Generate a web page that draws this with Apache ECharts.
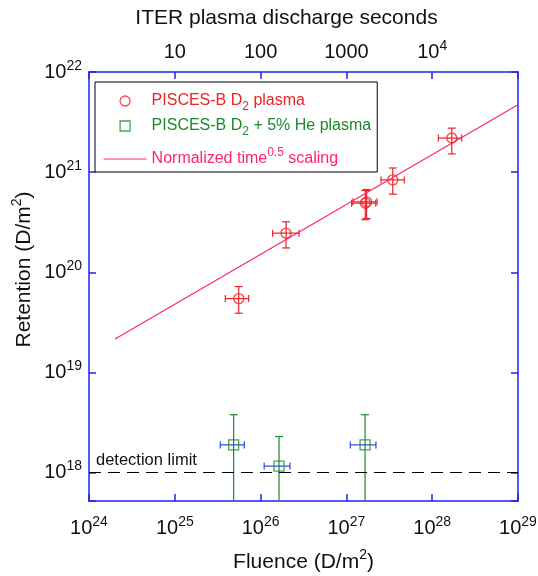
<!DOCTYPE html>
<html>
<head>
<meta charset="utf-8">
<script src="https://cdn.jsdelivr.net/npm/echarts@6/dist/echarts.min.js"></script>
<style>html,body{margin:0;padding:0;background:#fff;}#c{width:538px;height:576px;}</style>
</head>
<body>
<div id="c"></div>
<script>
// ---------------- data ----------------
const FONT = 'Liberation Sans, Arial, Helvetica, sans-serif';
const X_MIN = 1e24, X_MAX = 1e29;
const Y_MIN = 5.2e17, Y_MAX = 1e22;
const T_MIN = 1, T_MAX = 1e5;

const xTickExps = [24, 25, 26, 27, 28, 29];
const yTickExps = [18, 19, 20, 21, 22];
const topTickValues = [10, 100, 1000, 10000];
const topTickLabels = ['{b|10}', '{b|100}', '{b|1000}', '{b|10}{s|4}'];

// PISCES-B D2 plasma
const redX    = [5.56e25, 1.98e26, 1.66e27, 1.72e27, 3.47e27, 1.69e28];
const redY    = [5.46e19, 2.46e20, 4.90e20, 5.05e20, 8.37e20, 2.19e21];
const redXLo  = [3.88e25, 1.38e26, 1.15e27, 1.19e27, 2.53e27, 1.18e28];
const redXHi  = [7.26e25, 2.81e26, 2.20e27, 2.28e27, 4.73e27, 2.21e28];
const redYLo  = [3.90e19, 1.75e20, 3.35e20, 3.45e20, 6.03e20, 1.52e21];
const redYHi  = [7.19e19, 3.19e20, 6.55e20, 6.70e20, 1.10e21, 2.75e21];

// PISCES-B D2 + 5% He plasma
const grnX    = [4.85e25, 1.64e26, 1.65e27];
const grnY    = [1.89e18, 1.16e18, 1.89e18];
const grnXLo  = [3.39e25, 1.10e26, 1.11e27];
const grnXHi  = [6.46e25, 2.20e26, 2.21e27];
const grnYLo  = [0, 0, 0];
const grnYHi  = [3.78e18, 2.29e18, 3.78e18];

// Normalized time^0.5 scaling
const lineX = [2.01e24, 1e29];
const lineY = [2.16e19, 4.70e21];

const DET_LIMIT = 1e18;

const LEG_RED = 'PISCES-B D2 plasma';
const LEG_GRN = 'PISCES-B D2 + 5% He plasma';
const LEG_LINE = 'Normalized time0.5 scaling';

// ---------------- styles ----------------
const RED = '#ec2226';
const GREEN = '#1a8a2c';
const PINK = '#ff2277';
const BLUE = '#2222ee';
const XERR_BLUE = '#2a48d8';

const tickRich = {
  b: {fontSize: 20, lineHeight: 26, fontFamily: FONT, color: '#111'},
  s: {fontSize: 14, lineHeight: 8, verticalAlign: 'top', fontFamily: FONT, color: '#111'}
};
const nameRich = {
  n: {fontSize: 21, lineHeight: 28, fontFamily: FONT, color: '#111'},
  s: {fontSize: 14, lineHeight: 10, verticalAlign: 'top', fontFamily: FONT, color: '#111'}
};

function decadeLabel(exps) {
  return function (v) {
    const e = Math.log10(v);
    const k = exps.find(function (x) { return Math.abs(x - e) < 1e-6; });
    return k === undefined ? '' : '{b|10}{s|' + k + '}';
  };
}
function topLabel(v) {
  const i = topTickValues.findIndex(function (t) { return Math.abs(Math.log10(t) - Math.log10(v)) < 1e-6; });
  return i < 0 ? '' : topTickLabels[i];
}

const axisLine = {show: true, onZero: false, lineStyle: {color: BLUE, width: 1.5}};
const axisTick = {show: true, inside: true, length: 7, lineStyle: {color: BLUE, width: 1.5}};

function errorSeries(xs, ys, xLo, xHi, yLo, yHi, xColor, yColor, capW, capH) {
  return {
    type: 'custom', silent: true, clip: true, z: 2,
    xAxisIndex: 0, yAxisIndex: 0,
    data: xs.map(function (x, i) { return [x, ys[i], xLo[i], xHi[i], yLo[i], yHi[i]]; }),
    encode: {x: 0, y: 1},
    renderItem: function (params, api) {
      const cs = params.coordSys;
      const x = api.value(0), y = api.value(1);
      const c = api.coord([x, y]);
      const xl = api.coord([api.value(2), y])[0];
      const xh = api.coord([api.value(3), y])[0];
      const lo = api.value(4);
      const hasLo = lo > Y_MIN;
      const yl = hasLo ? api.coord([x, lo])[1] : cs.y + cs.height + 10;
      const yh = api.coord([x, api.value(5)])[1];
      const ys = {stroke: yColor, lineWidth: 1.2};
      const xs2 = {stroke: xColor, lineWidth: 1.2};
      const ch = [
        {type: 'line', shape: {x1: c[0], y1: yl, x2: c[0], y2: yh}, style: ys},
        {type: 'line', shape: {x1: c[0] - capW / 2, y1: yh, x2: c[0] + capW / 2, y2: yh}, style: ys},
        {type: 'line', shape: {x1: xl, y1: c[1], x2: xh, y2: c[1]}, style: xs2},
        {type: 'line', shape: {x1: xl, y1: c[1] - capH / 2, x2: xl, y2: c[1] + capH / 2}, style: xs2},
        {type: 'line', shape: {x1: xh, y1: c[1] - capH / 2, x2: xh, y2: c[1] + capH / 2}, style: xs2}
      ];
      if (hasLo) ch.push({type: 'line', shape: {x1: c[0] - capW / 2, y1: yl, x2: c[0] + capW / 2, y2: yl}, style: ys});
      return {type: 'group', children: ch};
    }
  };
}

const legendRich = {
  r: {color: RED, fontSize: 16, lineHeight: 24, fontFamily: FONT},
  rs: {color: RED, fontSize: 12, lineHeight: 4, verticalAlign: 'bottom', fontFamily: FONT},
  g: {color: GREEN, fontSize: 16, lineHeight: 24, fontFamily: FONT},
  gs: {color: GREEN, fontSize: 12, lineHeight: 4, verticalAlign: 'bottom', fontFamily: FONT},
  p: {color: PINK, fontSize: 16, lineHeight: 32, fontFamily: FONT},
  ps: {color: PINK, fontSize: 12, lineHeight: 14, verticalAlign: 'top', padding: [4, 0, 0, 0], fontFamily: FONT}
};
const legendText = {};
legendText[LEG_RED] = '{r|PISCES-B D}{rs|2}{r| plasma}';
legendText[LEG_GRN] = '{g|PISCES-B D}{gs|2}{g| + 5% He plasma}';
legendText[LEG_LINE] = '{p|Normalized time}{ps|0.5}{p| scaling}';

const option = {
  animation: false,
  backgroundColor: '#fff',
  textStyle: {fontFamily: FONT},
  grid: {left: 89, right: 20, top: 72, bottom: 75, containLabel: false, outerBoundsMode: 'none'},
  legend: {
    orient: 'vertical', left: 95, top: 82, padding: [11, 6, 5, 8], itemGap: 5,
    itemWidth: 43, itemHeight: 10, borderColor: '#000', borderWidth: 1, borderRadius: 0,
    backgroundColor: '#fff', selectedMode: false, symbolKeepAspect: true,
    formatter: function (name) { return legendText[name]; },
    textStyle: {rich: legendRich, fontFamily: FONT},
    data: [
      {name: LEG_RED, icon: 'circle', itemStyle: {color: 'rgba(0,0,0,0)', borderColor: RED, borderWidth: 1.3}},
      {name: LEG_GRN, icon: 'path://M0,0L10,0L10,10L0,10Z', itemStyle: {color: 'rgba(0,0,0,0)', borderColor: GREEN, borderWidth: 1.3}},
      {name: LEG_LINE, itemStyle: {color: 'rgba(0,0,0,0)', borderColor: 'rgba(0,0,0,0)', borderWidth: 0}, lineStyle: {color: PINK, width: 1.2}}
    ]
  },
  xAxis: [
    {
      type: 'log', min: X_MIN, max: X_MAX, position: 'bottom', gridIndex: 0,
      axisLine: axisLine, axisTick: axisTick, splitLine: {show: false}, minorTick: {show: false},
      axisLabel: {margin: 14, formatter: decadeLabel(xTickExps), rich: tickRich, showMinLabel: true, showMaxLabel: true, hideOverlap: false},
      name: '{n|Fluence (D/m}{s|2}{n|)}', nameLocation: 'middle', nameGap: 47, nameMoveOverlap: false,
      nameTextStyle: {rich: nameRich}
    },
    {
      type: 'log', min: T_MIN, max: T_MAX, position: 'top', gridIndex: 0,
      axisLine: axisLine, axisTick: axisTick, splitLine: {show: false}, minorTick: {show: false},
      axisLabel: {margin: 7, formatter: topLabel, rich: tickRich, hideOverlap: false},
      name: '{n|ITER plasma discharge seconds}', nameLocation: 'middle', nameGap: 40, nameMoveOverlap: false,
      nameTextStyle: {rich: nameRich, padding: [0, 34, 0, 0]}
    }
  ],
  yAxis: [
    {
      type: 'log', min: Y_MIN, max: Y_MAX, position: 'left', gridIndex: 0,
      axisLine: axisLine, axisTick: axisTick, splitLine: {show: false}, minorTick: {show: false},
      axisLabel: {margin: 7, formatter: decadeLabel(yTickExps), rich: tickRich, showMinLabel: true, showMaxLabel: true, hideOverlap: false},
      name: '{n|Retention (D/m}{s|2}{n|)}', nameLocation: 'middle', nameGap: 51, nameMoveOverlap: false,
      nameTextStyle: {rich: nameRich, padding: [0, 0, 0, 34]}
    },
    {
      type: 'log', min: Y_MIN, max: Y_MAX, position: 'right', gridIndex: 0,
      axisLine: axisLine, axisTick: axisTick, splitLine: {show: false}, minorTick: {show: false},
      axisLabel: {show: false}
    }
  ],
  series: [
    {
      type: 'line', data: [], silent: true, xAxisIndex: 0, yAxisIndex: 0,
      markLine: {
        silent: true, symbol: ['none', 'none'], animation: false,
        data: [{yAxis: DET_LIMIT}],
        lineStyle: {color: '#000', type: [12, 7], width: 1.2},
        label: {show: true, position: 'insideStartTop', formatter: 'detection limit', color: '#111', fontSize: 16.5, fontFamily: FONT, distance: [7, 4]},
        emphasis: {disabled: true}
      }
    },
    {
      name: LEG_LINE, type: 'line', xAxisIndex: 0, yAxisIndex: 0, silent: true, z: 2,
      data: lineX.map(function (x, i) { return [x, lineY[i]]; }),
      symbol: 'none', lineStyle: {color: PINK, width: 1.2}, itemStyle: {color: PINK}
    },
    errorSeries(redX, redY, redXLo, redXHi, redYLo, redYHi, RED, RED, 8, 7),
    errorSeries(grnX, grnY, grnXLo, grnXHi, grnYLo, grnYHi, XERR_BLUE, GREEN, 8, 7),
    {
      name: LEG_RED, type: 'scatter', xAxisIndex: 0, yAxisIndex: 0, silent: true, z: 3,
      data: redX.map(function (x, i) { return [x, redY[i]]; }),
      symbol: 'circle', symbolSize: 10,
      itemStyle: {color: 'rgba(0,0,0,0)', borderColor: RED, borderWidth: 1.4}
    },
    {
      name: LEG_GRN, type: 'scatter', xAxisIndex: 0, yAxisIndex: 0, silent: true, z: 3,
      data: grnX.map(function (x, i) { return [x, grnY[i]]; }),
      symbol: 'rect', symbolSize: 10,
      itemStyle: {color: 'rgba(0,0,0,0)', borderColor: GREEN, borderWidth: 1.3}
    }
  ]
};

const chart = echarts.init(document.getElementById('c'), null, {renderer: 'canvas'});
chart.setOption(option);
</script>
</body>
</html>
